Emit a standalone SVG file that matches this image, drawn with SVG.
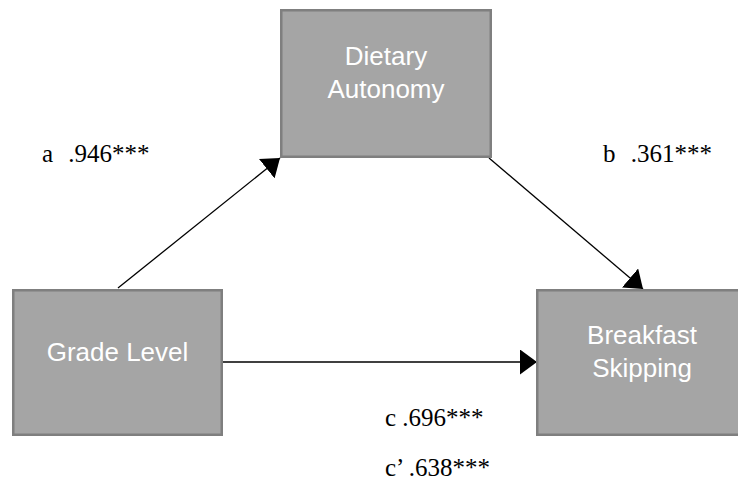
<svg xmlns="http://www.w3.org/2000/svg" width="738" height="485" viewBox="0 0 738 485">
<style>
.box{fill:#a5a5a5;stroke:#7f7f7f;stroke-width:2.5}
.bt{font-family:"Liberation Sans",Arial,sans-serif;font-size:26px;fill:#ffffff;text-anchor:middle}
.lbl{font-family:"Liberation Serif","Times New Roman",serif;font-size:25px;fill:#000000}
.edge{stroke:#000000;stroke-width:1.3;fill:none;marker-end:url(#ah)}
</style>
<defs>
<marker id="ah" viewBox="0 0 17 25" refX="17" refY="12.5" markerWidth="17" markerHeight="25" markerUnits="userSpaceOnUse" orient="auto">
<path d="M0,0 L17,12.5 L0,25 Z" fill="#000000"/>
</marker>
</defs>
<g id="connectors">
<line class="edge" x1="118" y1="288" x2="280" y2="158"/>
<line class="edge" x1="489" y1="158" x2="643" y2="289"/>
<line class="edge" x1="223" y1="362" x2="537" y2="362"/>
</g>
<g id="dietary-autonomy">
<rect class="box" x="281.25" y="10.25" width="209.5" height="146.5"/>
<text class="bt" x="386" y="64.5">Dietary</text>
<text class="bt" x="386" y="97.5">Autonomy</text>
</g>
<g id="grade-level">
<rect class="box" x="13.25" y="290.25" width="208.5" height="144.5"/>
<text class="bt" x="117.5" y="360.5">Grade Level</text>
</g>
<g id="breakfast-skipping">
<rect class="box" x="537.25" y="290.25" width="209.5" height="144.5"/>
<text class="bt" x="642" y="344">Breakfast</text>
<text class="bt" x="642" y="377">Skipping</text>
</g>
<g id="labels">
<text class="lbl" x="42" y="162" word-spacing="9">a .946***</text>
<text class="lbl" x="603" y="162" word-spacing="9">b .361***</text>
<text class="lbl" x="385" y="426">c .696***</text>
<text class="lbl" x="385" y="476">c’ .638***</text>
</g>
</svg>
